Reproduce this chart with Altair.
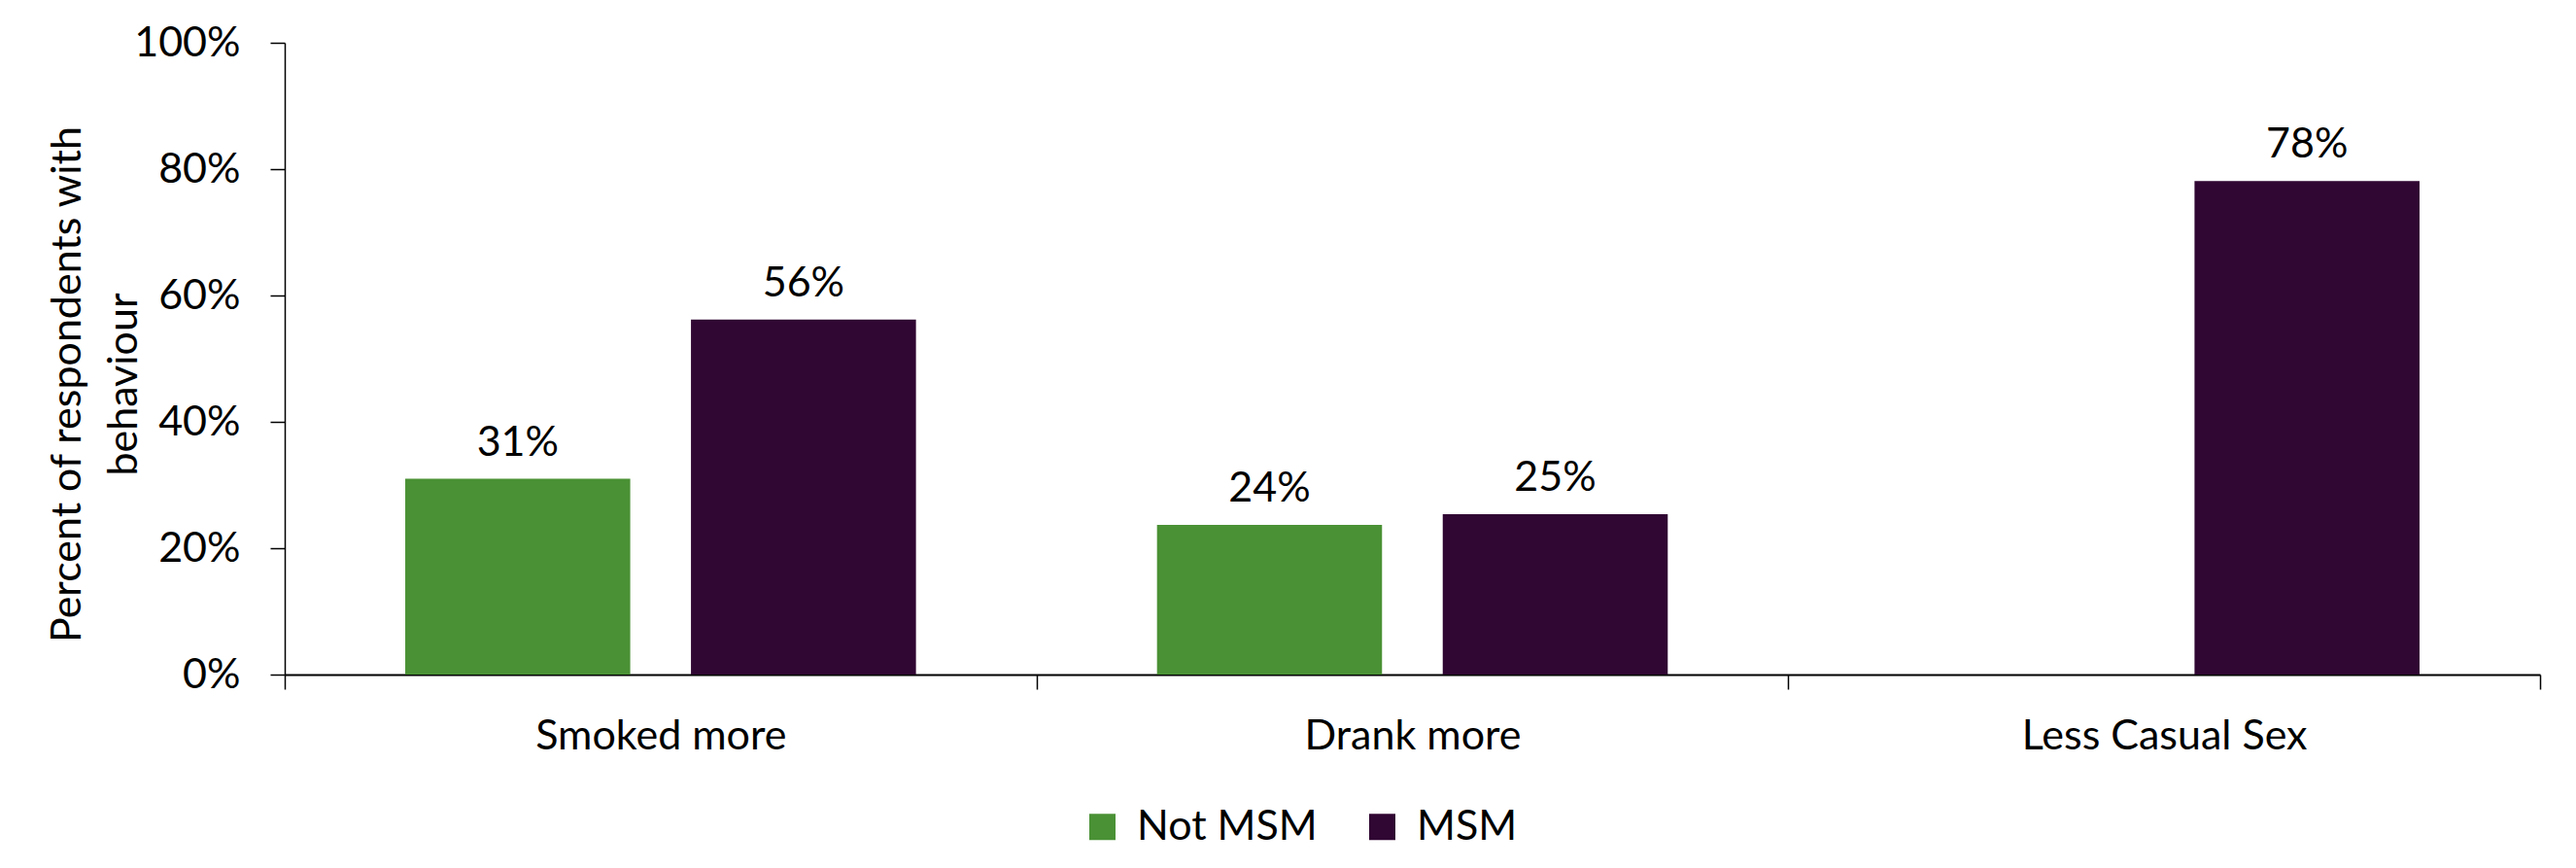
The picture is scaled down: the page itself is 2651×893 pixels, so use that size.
import altair as alt
import pandas as pd

# Share of respondents reporting each behaviour, by group
categories = ["Smoked more", "Drank more", "Less Casual Sex"]
groups = ["Not MSM", "MSM"]
not_msm = [0.31, 0.237, None]
msm = [0.562, 0.254, 0.781]
colors = ["#4A9135", "#300632"]

rows = []
for cat, a, b in zip(categories, not_msm, msm):
    if a is not None:
        rows.append({"behaviour": cat, "group": "Not MSM", "value": a})
    if b is not None:
        rows.append({"behaviour": cat, "group": "MSM", "value": b})
df = pd.DataFrame(rows)

FONT = "Lato"
FS = 43

x_enc = alt.X(
    "behaviour:N",
    sort=categories,
    scale=alt.Scale(domain=categories, paddingInner=0, paddingOuter=0),
    axis=alt.Axis(
        title=None,
        labelAngle=0,
        labelFont=FONT,
        labelFontSize=FS,
        labelColor="#000000",
        labelBaseline="alphabetic",
        labelPadding=61,
        labelLimit=0,
        tickBand="extent",
        tickSize=15,
        tickColor="#000000",
        tickWidth=1.5,
        domainColor="#000000",
        domainWidth=2,
    ),
)
xoff_enc = alt.XOffset(
    "group:N",
    sort=groups,
    scale=alt.Scale(domain=groups, paddingInner=0.2125, paddingOuter=0.4218),
)
y_enc = alt.Y(
    "value:Q",
    scale=alt.Scale(domain=[0, 1]),
    axis=alt.Axis(
        title=["Percent of respondents with", "behaviour"],
        titleFont=FONT,
        titleFontSize=FS,
        titleFontWeight="normal",
        titleColor="#000000",
        titleAngle=270,
        titleAlign="center",
        titleBaseline="alphabetic",
        titleLineHeight=58,
        titleLimit=0,
        titleX=-211,
        titleY=351,
        values=[0, 0.2, 0.4, 0.6, 0.8, 1.0],
        format=".0%",
        labelFont=FONT,
        labelFontSize=FS,
        labelColor="#000000",
        labelPadding=31,
        tickSize=15,
        tickColor="#000000",
        tickWidth=1.5,
        domainColor="#000000",
        domainWidth=1.5,
        grid=False,
    ),
)

bars = alt.Chart(df).mark_bar().encode(
    x=x_enc,
    xOffset=xoff_enc,
    y=y_enc,
    color=alt.Color(
        "group:N",
        sort=groups,
        scale=alt.Scale(domain=groups, range=colors),
        legend=alt.Legend(
            title=None,
            orient="none",
            direction="horizontal",
            legendX=820,
            legendY=785,
            padding=0,
            symbolType="square",
            symbolSize=729,
            symbolStrokeWidth=0,
            symbolOpacity=1,
            labelFont=FONT,
            labelFontSize=FS,
            labelColor="#000000",
            labelOffset=14,
            labelLimit=0,
            columnPadding=45,
        ),
    ),
)

labels = alt.Chart(df).mark_text(
    font=FONT, fontSize=FS, color="#000000", baseline="alphabetic", dy=-24
).encode(
    x=alt.X("behaviour:N", sort=categories),
    xOffset=alt.XOffset("group:N", sort=groups),
    y=alt.Y("value:Q"),
    text=alt.Text("value:Q", format=".0%"),
)

chart = (
    alt.layer(bars, labels)
    .properties(
        width=2321,
        height=650,
        autosize=alt.AutoSizeParams(type="none"),
        padding={"left": 293, "top": 44, "right": 37, "bottom": 199},
        background="#ffffff",
    )
    .configure_view(stroke=None)
)

chart.save("out.html", embed_options={"renderer": "svg", "actions": False})
